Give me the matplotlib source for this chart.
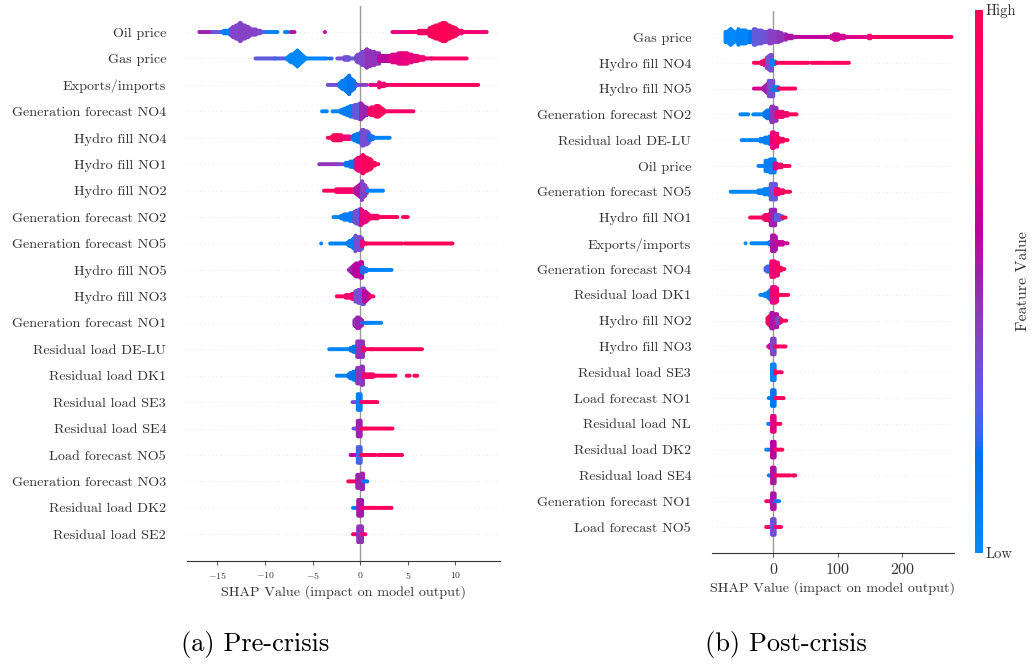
import numpy as np
import matplotlib
matplotlib.use('Agg')
import matplotlib.pyplot as plt
from matplotlib.colors import LinearSegmentedColormap, Normalize
from matplotlib.cm import ScalarMappable

plt.rcParams['font.family'] = 'cmr10'
plt.rcParams['mathtext.fontset'] = 'cm'
plt.rcParams['axes.unicode_minus'] = False

# ---------------- data ----------------
# features listed top to bottom; each run = (shap_from, shap_to, halfwidth_from, halfwidth_to, feature_value)
pre_features = ["Oil price", "Gas price", "Exports/imports", "Generation forecast NO4",
                "Hydro fill NO4", "Hydro fill NO1", "Hydro fill NO2", "Generation forecast NO2",
                "Generation forecast NO5", "Hydro fill NO5", "Hydro fill NO3", "Generation forecast NO1",
                "Residual load DE-LU", "Residual load DK1", "Residual load SE3", "Residual load SE4",
                "Load forecast NO5", "Generation forecast NO3", "Residual load DK2", "Residual load SE2"]

pre_runs = [
    [(-16.9, -15.5, 0.03, 0.05, 0.5), (-15.5, -14.5, 0.05, 0.12, 0.3), (-14.5, -13.5, 0.12, 0.2, 0.1),
     (-13.5, -12.6, 0.25, 0.42, 0.38), (-12.6, -11.6, 0.42, 0.25, 0.4), (-11.6, -10.5, 0.22, 0.14, 0.4),
     (-10.5, -9.8, 0.12, 0.08, 0.3), (-9.8, -8.7, 0.05, 0.03, 0.05), (-7.9, -7.6, 0.03, 0.03, 0.05),
     (-7.3, -6.9, 0.04, 0.04, 0.55), (-3.7, -3.7, 0.0, 0.0, 0.6), (3.4, 5.5, 0.03, 0.08, 0.8),
     (5.5, 7.3, 0.1, 0.18, 0.9), (7.3, 8.8, 0.25, 0.45, 0.97), (8.8, 10.2, 0.45, 0.2, 0.97),
     (10.2, 11.5, 0.14, 0.1, 0.9), (11.5, 13.3, 0.08, 0.03, 0.85)],
    [(-11.0, -9.0, 0.04, 0.05, 0.3), (-9.0, -7.6, 0.06, 0.12, 0.25), (-7.6, -6.6, 0.15, 0.38, 0.03),
     (-6.6, -5.7, 0.38, 0.12, 0.03), (-5.7, -3.5, 0.1, 0.08, 0.05), (-3.2, -3.0, 0.04, 0.04, 0.2),
     (-2.4, -1.2, 0.08, 0.16, 0.35), (-1.2, -0.4, 0.06, 0.08, 0.3), (-0.4, 0.7, 0.2, 0.42, 0.38),
     (0.7, 2.0, 0.42, 0.28, 0.45), (2.0, 3.2, 0.2, 0.18, 0.6), (3.2, 4.5, 0.22, 0.32, 0.75),
     (4.5, 6.2, 0.32, 0.16, 0.8), (6.2, 7.5, 0.14, 0.1, 0.85), (7.5, 11.2, 0.08, 0.04, 0.92)],
    [(-3.4, -2.2, 0.04, 0.12, 0.35), (-2.2, -1.15, 0.15, 0.42, 0.1), (-1.15, -0.3, 0.42, 0.1, 0.15),
     (-0.3, 0.7, 0.06, 0.04, 0.4), (1.05, 2.0, 0.1, 0.12, 0.75), (2.0, 2.7, 0.18, 0.12, 0.85),
     (2.7, 5.0, 0.1, 0.08, 0.9), (5.0, 12.4, 0.08, 0.04, 0.95)],
    [(-4.0, -3.5, 0.03, 0.03, 0.05), (-2.9, -2.0, 0.04, 0.1, 0.05), (-2.0, -0.7, 0.15, 0.32, 0.1),
     (-0.7, 0.1, 0.32, 0.4, 0.3), (0.1, 1.0, 0.38, 0.16, 0.5), (1.0, 1.8, 0.2, 0.32, 0.9),
     (1.8, 2.5, 0.32, 0.14, 0.95), (2.5, 5.6, 0.12, 0.05, 0.9)],
    [(-3.4, -2.8, 0.08, 0.14, 0.95), (-2.8, -2.0, 0.22, 0.2, 0.95), (-2.0, -0.8, 0.14, 0.12, 0.85),
     (-0.8, 0.2, 0.16, 0.32, 0.15), (0.2, 0.9, 0.4, 0.32, 0.35), (0.9, 1.5, 0.2, 0.1, 0.2),
     (1.5, 3.1, 0.08, 0.04, 0.05)],
    [(-4.3, -2.5, 0.04, 0.08, 0.45), (-2.5, -1.5, 0.1, 0.12, 0.4), (-1.5, -0.4, 0.14, 0.24, 0.15),
     (-0.4, 0.3, 0.32, 0.42, 0.85), (0.3, 1.2, 0.42, 0.26, 0.95), (1.2, 1.9, 0.2, 0.05, 0.95)],
    [(-3.8, -2.5, 0.1, 0.12, 0.95), (-2.5, -0.5, 0.14, 0.16, 0.9), (-0.5, 0.2, 0.2, 0.42, 0.55),
     (0.2, 0.7, 0.42, 0.2, 0.4), (0.7, 2.4, 0.1, 0.05, 0.05)],
    [(-2.8, -2.0, 0.06, 0.12, 0.05), (-2.0, -0.6, 0.16, 0.26, 0.1), (-0.6, 0.1, 0.3, 0.4, 0.35),
     (0.1, 0.9, 0.4, 0.2, 0.8), (0.9, 2.0, 0.16, 0.12, 0.9), (2.0, 3.9, 0.1, 0.04, 0.95),
     (4.5, 5.0, 0.04, 0.04, 0.95)],
    [(-4.1, -4.1, 0.0, 0.0, 0.05), (-3.15, -1.4, 0.04, 0.07, 0.05), (-1.4, -0.5, 0.12, 0.32, 0.1),
     (-0.5, 0.2, 0.38, 0.32, 0.35), (0.2, 0.7, 0.2, 0.08, 0.8), (0.7, 4.4, 0.07, 0.05, 0.95),
     (4.7, 9.7, 0.06, 0.05, 0.97)],
    [(-1.2, -0.6, 0.12, 0.26, 0.5), (-0.6, 0.2, 0.32, 0.4, 0.6), (0.2, 0.8, 0.2, 0.12, 0.2),
     (0.8, 3.3, 0.1, 0.06, 0.05)],
    [(-2.45, -1.5, 0.08, 0.12, 0.95), (-1.5, -0.5, 0.14, 0.2, 0.85), (-0.5, 0.4, 0.3, 0.4, 0.35),
     (0.4, 1.0, 0.32, 0.14, 0.6), (1.0, 1.4, 0.12, 0.05, 0.9)],
    [(-0.6, -0.3, 0.22, 0.32, 0.45), (-0.3, 0.2, 0.32, 0.22, 0.5), (0.2, 0.8, 0.12, 0.1, 0.2),
     (0.8, 2.2, 0.08, 0.05, 0.05)],
    [(-3.25, -1.0, 0.06, 0.08, 0.05), (-1.0, -0.4, 0.14, 0.22, 0.15), (-0.3, 0.3, 0.38, 0.4, 0.45),
     (0.3, 1.2, 0.14, 0.08, 0.9), (1.2, 6.5, 0.08, 0.05, 0.95)],
    [(-2.45, -1.2, 0.08, 0.12, 0.05), (-1.2, -0.4, 0.16, 0.3, 0.15), (-0.3, 0.3, 0.38, 0.45, 0.45),
     (0.3, 1.5, 0.16, 0.12, 0.9), (1.5, 3.7, 0.1, 0.05, 0.95), (4.9, 5.2, 0.04, 0.04, 0.95),
     (5.7, 6.0, 0.04, 0.04, 0.95)],
    [(-0.8, -0.3, 0.06, 0.1, 0.4), (-0.25, 0.05, 0.4, 0.4, 0.08), (0.1, 0.6, 0.12, 0.1, 0.85),
     (0.6, 1.8, 0.09, 0.05, 0.95)],
    [(-0.7, -0.3, 0.06, 0.08, 0.3), (-0.25, 0.05, 0.4, 0.4, 0.5), (0.1, 0.6, 0.12, 0.1, 0.9),
     (0.6, 3.4, 0.09, 0.05, 0.95)],
    [(-1.0, -0.3, 0.06, 0.08, 0.6), (-0.25, 0.05, 0.4, 0.4, 0.25), (0.1, 1.6, 0.1, 0.08, 0.95),
     (1.9, 4.4, 0.08, 0.05, 0.95)],
    [(-1.25, -0.4, 0.08, 0.12, 0.95), (-0.3, 0.3, 0.34, 0.4, 0.5), (0.3, 0.75, 0.12, 0.05, 0.15)],
    [(-0.75, -0.3, 0.08, 0.12, 0.1), (-0.2, 0.2, 0.4, 0.4, 0.55), (0.2, 1.7, 0.1, 0.06, 0.95),
     (1.9, 3.3, 0.08, 0.05, 0.95)],
    [(-0.75, -0.3, 0.06, 0.1, 0.9), (-0.2, 0.2, 0.38, 0.38, 0.45), (0.2, 0.55, 0.12, 0.05, 0.9)],
]

post_features = ["Gas price", "Hydro fill NO4", "Hydro fill NO5", "Generation forecast NO2",
                 "Residual load DE-LU", "Oil price", "Generation forecast NO5", "Hydro fill NO1",
                 "Exports/imports", "Generation forecast NO4", "Residual load DK1", "Hydro fill NO2",
                 "Hydro fill NO3", "Residual load SE3", "Load forecast NO1", "Residual load NL",
                 "Residual load DK2", "Residual load SE4", "Generation forecast NO1", "Load forecast NO5"]

post_runs = [
    [(-74, -66, 0.28, 0.38, 0.02), (-66, -58, 0.38, 0.25, 0.02), (-58, -54, 0.25, 0.32, 0.02),
     (-54, -36, 0.38, 0.3, 0.05), (-36, -30, 0.28, 0.3, 0.15), (-30, -16, 0.4, 0.32, 0.3),
     (-16, -6, 0.32, 0.32, 0.35), (-6, 8, 0.34, 0.28, 0.4), (8, 20, 0.26, 0.2, 0.45),
     (20, 38, 0.16, 0.1, 0.55), (38, 90, 0.08, 0.07, 0.62), (90, 96, 0.14, 0.22, 0.65),
     (96, 112, 0.22, 0.12, 0.68), (112, 125, 0.1, 0.08, 0.7), (125, 148, 0.08, 0.07, 0.78),
     (148, 158, 0.14, 0.1, 0.85), (158, 276, 0.08, 0.05, 0.95)],
    [(-30, -18, 0.08, 0.12, 0.95), (-18, -11, 0.14, 0.2, 0.85), (-10, -2, 0.32, 0.42, 0.35),
     (-2, 5, 0.2, 0.12, 0.1), (5, 54, 0.08, 0.07, 0.95), (59, 117, 0.08, 0.06, 0.95)],
    [(-30, -15, 0.08, 0.1, 0.7), (-15, -8, 0.16, 0.3, 0.5), (-7, 0, 0.4, 0.4, 0.35),
     (1, 8, 0.16, 0.14, 0.15), (8, 34, 0.12, 0.05, 0.95)],
    [(-51, -39, 0.06, 0.06, 0.05), (-31, -12, 0.08, 0.14, 0.05), (-12, -4, 0.2, 0.3, 0.15),
     (-3, 5, 0.4, 0.36, 0.45), (5, 22, 0.22, 0.16, 0.85), (22, 36, 0.12, 0.04, 0.95)],
    [(-49, -43, 0.06, 0.06, 0.05), (-39, -15, 0.08, 0.14, 0.05), (-15, -3, 0.16, 0.26, 0.1),
     (-2, 6, 0.4, 0.36, 0.8), (6, 22, 0.22, 0.06, 0.95)],
    [(-23, -15, 0.06, 0.06, 0.05), (-12, 2, 0.3, 0.36, 0.08), (2, 10, 0.2, 0.14, 0.7),
     (10, 25, 0.14, 0.08, 0.95)],
    [(-66, -25, 0.06, 0.1, 0.03), (-25, -5, 0.12, 0.24, 0.05), (-4, 4, 0.4, 0.42, 0.3),
     (4, 15, 0.2, 0.16, 0.85), (15, 26, 0.14, 0.05, 0.95)],
    [(-36, -15, 0.08, 0.1, 0.95), (-15, -5, 0.16, 0.24, 0.9), (-4, 3, 0.42, 0.42, 0.5),
     (4, 14, 0.22, 0.16, 0.3), (14, 19, 0.12, 0.05, 0.95)],
    [(-43, -43, 0.0, 0.0, 0.03), (-34, -8, 0.06, 0.1, 0.03), (-8, -3, 0.12, 0.16, 0.1),
     (-2, 4, 0.42, 0.36, 0.55), (5, 22, 0.14, 0.12, 0.65)],
    [(-12, -4, 0.16, 0.26, 0.25), (-3, 7, 0.42, 0.36, 0.85), (8, 17, 0.2, 0.06, 0.95)],
    [(-20, -8, 0.1, 0.16, 0.05), (-8, -2, 0.2, 0.32, 0.1), (-2, 6, 0.42, 0.36, 0.8),
     (6, 23, 0.14, 0.05, 0.95)],
    [(-9, -3, 0.2, 0.36, 0.9), (-3, 6, 0.4, 0.34, 0.55), (6, 12, 0.22, 0.16, 0.4),
     (12, 20, 0.14, 0.06, 0.95)],
    [(-8, -3, 0.12, 0.2, 0.7), (-2, 2, 0.4, 0.4, 0.4), (3, 19, 0.12, 0.05, 0.95)],
    [(-2, 2, 0.42, 0.42, 0.05), (3, 13, 0.14, 0.06, 0.95)],
    [(-7, -3, 0.08, 0.1, 0.1), (-2, 2, 0.42, 0.42, 0.15), (3, 16, 0.1, 0.05, 0.95)],
    [(-8, -3, 0.06, 0.1, 0.05), (-2, 2, 0.42, 0.42, 0.75), (3, 11, 0.12, 0.06, 0.95)],
    [(-11, -3, 0.08, 0.1, 0.05), (-2, 2, 0.42, 0.42, 0.6), (3, 14, 0.12, 0.05, 0.95)],
    [(-7, -3, 0.05, 0.08, 0.1), (-2, 2, 0.42, 0.42, 0.55), (3, 26, 0.12, 0.08, 0.95),
     (30, 34, 0.06, 0.06, 0.95)],
    [(-11, -3, 0.1, 0.14, 0.9), (-2, 2, 0.42, 0.42, 0.55), (3, 9, 0.12, 0.05, 0.1)],
    [(-11, -3, 0.06, 0.08, 0.95), (-2, 2, 0.42, 0.42, 0.35), (3, 12, 0.1, 0.05, 0.9)],
]

pre_ticks = [-15, -10, -5, 0, 5, 10]
post_ticks = [0, 100, 200]
pre_xlim = (-18.2, 14.7)
post_xlim = (-95.0, 280.0)
colorbar_labels = ["Low", "High"]


# ---------------- SHAP red-blue colormap (LCH interpolation) ----------------
def lch2rgb(L, C, H):
    a = C * np.cos(H)
    b = C * np.sin(H)
    fy = (L + 16) / 116.0
    fx = fy + a / 500.0
    fz = fy - b / 200.0

    def finv(t):
        return t ** 3 if t > 6 / 29 else 3 * (6 / 29) ** 2 * (t - 4 / 29)

    xyz = np.array([0.95047 * finv(fx), finv(fy), 1.08883 * finv(fz)])
    M = np.array([[3.2406, -1.5372, -0.4986], [-0.9689, 1.8758, 0.0415], [0.0557, -0.2040, 1.0570]])
    lin = M @ xyz
    rgb = np.where(lin > 0.0031308, 1.055 * np.abs(lin) ** (1 / 2.4) - 0.055, 12.92 * lin)
    return np.clip(rgb, 0, 1)


blue_lch = [54.0, 70.0, 4.6588]
red_lch = [54.0, 90.0, 0.35470565 + 2 * np.pi]
nsteps = 100
l_vals = list(np.linspace(blue_lch[0], 40.0, nsteps // 2)) + list(np.linspace(40.0, red_lch[0], nsteps // 2))
c_vals = np.linspace(blue_lch[1], red_lch[1], nsteps)
h_vals = np.linspace(blue_lch[2], red_lch[2], nsteps)
cols = [lch2rgb(l, c, h) for l, c, h in zip(l_vals, c_vals, h_vals)]
cmap = LinearSegmentedColormap.from_list("red_blue", cols)

# ---------------- figure ----------------
W, H, DPI = 10.32, 6.65, 100
fig = plt.figure(figsize=(W, H), dpi=DPI)


def px_rect(x0, y0, x1, y1):
    return [x0 / 1032, (665 - y1) / 665, (x1 - x0) / 1032, (y1 - y0) / 665]


ax1 = fig.add_axes(px_rect(187, 5.6, 500, 560.7))
ax2 = fig.add_axes(px_rect(712, 11.2, 954, 552.8))
cax = fig.add_axes(px_rect(975, 10, 983, 553))

STEP_X = 1.5     # px between columns of dots
STEP_Y = 1.3     # px between stacked dots
DOT_R = 2.0      # dot radius, px


def draw_panel(ax, features, runs, xlim, ticks, tick_size):
    n = len(features)
    ax.set_xlim(*xlim)
    ax.set_ylim(-1, n)
    bb = ax.get_position()
    width_px = bb.width * W * DPI
    row_px = bb.height * H * DPI / (n + 1)
    dx = (xlim[1] - xlim[0]) / width_px * STEP_X
    ax.axvline(0, color="#999999", lw=1.0, zorder=-1)
    xs, ys, cs = [], [], []
    for i, rr in enumerate(runs):
        y0 = n - 1 - i
        ax.axhline(y0, color="#cccccc", lw=0.5, dashes=(1, 5), zorder=-1)
        for (x0, x1, h0, h1, c) in rr:
            ncol = max(1, int(round((x1 - x0) / dx)) + 1)
            for t in np.linspace(0, 1, ncol):
                x = x0 + (x1 - x0) * t
                h = h0 + (h1 - h0) * t
                m = max(0, int((h * row_px - DOT_R) / STEP_Y))
                for k in range(-m, m + 1):
                    xs.append(x)
                    ys.append(y0 + k * STEP_Y / row_px)
                    cs.append(c)
    ax.scatter(xs, ys, c=cs, cmap=cmap, vmin=0, vmax=1, s=8, linewidths=0,
               rasterized=True, zorder=3)
    ax.set_yticks(range(n))
    ax.set_yticklabels(features[::-1], fontsize=10.2, color="#333333")
    ax.tick_params(axis="y", length=0, pad=15)
    ax.set_xticks(ticks)
    ax.set_xticklabels([("$-%d$" % -t) if t < 0 else "$%d$" % t for t in ticks])
    ax.tick_params(axis="x", labelsize=tick_size, length=3, width=0.6, colors="#333333")
    for s in ["top", "right", "left"]:
        ax.spines[s].set_visible(False)
    ax.spines["bottom"].set_color("#333333")
    ax.set_xlabel("SHAP Value (impact on model output)", fontsize=10.2, color="#333333", labelpad=3)


draw_panel(ax1, pre_features, pre_runs, pre_xlim, pre_ticks, 7)
draw_panel(ax2, post_features, post_runs, post_xlim, post_ticks, 11.5)

sm = ScalarMappable(norm=Normalize(0, 1), cmap=cmap)
cb = fig.colorbar(sm, cax=cax, ticks=[0, 1])
cb.set_ticklabels(colorbar_labels)
cb.ax.tick_params(labelsize=10.5, length=0, pad=2, colors="#333333")
cb.outline.set_visible(False)
cb.set_label("Feature Value", size=11.5, labelpad=0, color="#333333")

fig.text(255 / 1032, (665 - 645) / 665, "(a) Pre-crisis", fontsize=19, ha="center", va="center")
fig.text(786 / 1032, (665 - 645) / 665, "(b) Post-crisis", fontsize=19, ha="center", va="center")

fig.savefig("out.png", dpi=DPI)
